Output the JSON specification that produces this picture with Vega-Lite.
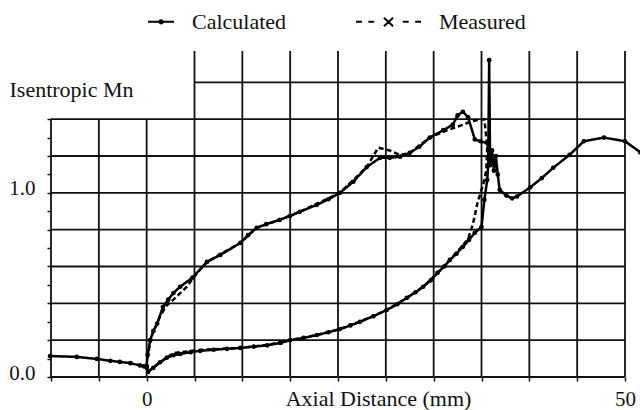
{
  "$schema": "https://vega.github.io/schema/vega-lite/v6.json",
  "width": 574,
  "height": 326,
  "autosize": {"type": "none"},
  "padding": {"left": 51, "top": 51, "right": 15, "bottom": 33},
  "background": "white",
  "config": {
    "font": "Liberation Serif",
    "view": {"stroke": null},
    "axis": {"domain": false, "grid": false, "tickColor": "#111", "tickWidth": 1.5, "labelColor": "#111", "labelFont": "Liberation Serif", "labelFontSize": 21, "titleFont": "Liberation Serif", "titleFontSize": 22, "titleFontWeight": "normal", "titleColor": "#111"}
  },
  "datasets": {
    "gridV": [
      {"x": -10, "y": 0, "y2": 1.4}, {"x": -5, "y": 0, "y2": 1.4}, {"x": 0, "y": 0, "y2": 1.4},
      {"x": 5, "y": 0, "y2": 1.77}, {"x": 10, "y": 0, "y2": 1.77}, {"x": 15, "y": 0, "y2": 1.77},
      {"x": 20, "y": 0, "y2": 1.77}, {"x": 25, "y": 0, "y2": 1.77}, {"x": 30, "y": 0, "y2": 1.77},
      {"x": 35, "y": 0, "y2": 1.77}, {"x": 40, "y": 0, "y2": 1.77}, {"x": 45, "y": 0, "y2": 1.77},
      {"x": 50, "y": 0, "y2": 1.77}
    ],
    "gridH": [
      {"y": 0, "x": -10, "x2": 50}, {"y": 0.2, "x": -10, "x2": 50}, {"y": 0.4, "x": -10, "x2": 50},
      {"y": 0.6, "x": -10, "x2": 50}, {"y": 0.8, "x": -10, "x2": 50}, {"y": 1.0, "x": -10, "x2": 50},
      {"y": 1.2, "x": -10, "x2": 50}, {"y": 1.4, "x": -10, "x2": 50}, {"y": 1.6, "x": 5, "x2": 50}
    ],
    "keys": [
      {"series": "Calculated", "x": 20, "y": 0.5},
      {"series": "Measured", "x": 20, "y": 0.5}
    ],
    "curves": [
      {"series": "Calculated", "seg": "a", "i": 1, "x": -10.1, "y": 0.114},
      {"series": "Calculated", "seg": "a", "i": 2, "x": -7.3, "y": 0.109},
      {"series": "Calculated", "seg": "a", "i": 3, "x": -5.2, "y": 0.098},
      {"series": "Calculated", "seg": "a", "i": 4, "x": -3.8, "y": 0.088},
      {"series": "Calculated", "seg": "a", "i": 5, "x": -2.8, "y": 0.082},
      {"series": "Calculated", "seg": "a", "i": 6, "x": -1.7, "y": 0.075},
      {"series": "Calculated", "seg": "a", "i": 7, "x": -0.7, "y": 0.063},
      {"series": "Calculated", "seg": "a", "i": 8, "x": -0.3, "y": 0.058},
      {"series": "Calculated", "seg": "a", "i": 9, "x": 0.0, "y": 0.05},
      {"series": "Calculated", "seg": "a", "i": 10, "x": 0.15, "y": 0.027},
      {"series": "Calculated", "seg": "a", "i": 11, "x": 0.7, "y": 0.05},
      {"series": "Calculated", "seg": "a", "i": 12, "x": 1.4, "y": 0.08},
      {"series": "Calculated", "seg": "a", "i": 13, "x": 2.1, "y": 0.105},
      {"series": "Calculated", "seg": "a", "i": 14, "x": 2.8, "y": 0.118},
      {"series": "Calculated", "seg": "a", "i": 15, "x": 3.5, "y": 0.125},
      {"series": "Calculated", "seg": "a", "i": 16, "x": 4.6, "y": 0.135},
      {"series": "Calculated", "seg": "a", "i": 17, "x": 5.6, "y": 0.142},
      {"series": "Calculated", "seg": "a", "i": 18, "x": 7.0, "y": 0.148},
      {"series": "Calculated", "seg": "a", "i": 19, "x": 8.4, "y": 0.153},
      {"series": "Calculated", "seg": "a", "i": 20, "x": 9.8, "y": 0.158},
      {"series": "Calculated", "seg": "a", "i": 21, "x": 11.2, "y": 0.165},
      {"series": "Calculated", "seg": "a", "i": 22, "x": 12.6, "y": 0.172},
      {"series": "Calculated", "seg": "a", "i": 23, "x": 14.0, "y": 0.185},
      {"series": "Calculated", "seg": "a", "i": 24, "x": 15.0, "y": 0.2},
      {"series": "Calculated", "seg": "a", "i": 25, "x": 16.4, "y": 0.212},
      {"series": "Calculated", "seg": "a", "i": 26, "x": 17.8, "y": 0.228},
      {"series": "Calculated", "seg": "a", "i": 27, "x": 19.0, "y": 0.243},
      {"series": "Calculated", "seg": "a", "i": 28, "x": 20.2, "y": 0.26},
      {"series": "Calculated", "seg": "a", "i": 29, "x": 21.3, "y": 0.28},
      {"series": "Calculated", "seg": "a", "i": 30, "x": 22.3, "y": 0.3},
      {"series": "Calculated", "seg": "a", "i": 31, "x": 23.7, "y": 0.33},
      {"series": "Calculated", "seg": "a", "i": 32, "x": 25.1, "y": 0.364},
      {"series": "Calculated", "seg": "a", "i": 33, "x": 26.2, "y": 0.395},
      {"series": "Calculated", "seg": "a", "i": 34, "x": 27.2, "y": 0.43},
      {"series": "Calculated", "seg": "a", "i": 35, "x": 28.1, "y": 0.46},
      {"series": "Calculated", "seg": "a", "i": 36, "x": 28.9, "y": 0.49},
      {"series": "Calculated", "seg": "a", "i": 37, "x": 29.7, "y": 0.525},
      {"series": "Calculated", "seg": "a", "i": 38, "x": 30.4, "y": 0.565},
      {"series": "Calculated", "seg": "a", "i": 39, "x": 31.1, "y": 0.6},
      {"series": "Calculated", "seg": "a", "i": 40, "x": 31.7, "y": 0.636},
      {"series": "Calculated", "seg": "a", "i": 41, "x": 32.4, "y": 0.67},
      {"series": "Calculated", "seg": "a", "i": 42, "x": 33.05, "y": 0.707},
      {"series": "Calculated", "seg": "a", "i": 43, "x": 33.7, "y": 0.745},
      {"series": "Calculated", "seg": "a", "i": 44, "x": 34.3, "y": 0.783},
      {"series": "Calculated", "seg": "a", "i": 45, "x": 35.0, "y": 0.815},
      {"series": "Calculated", "seg": "a", "i": 46, "x": 35.3, "y": 0.962},
      {"series": "Calculated", "seg": "a", "i": 47, "x": 35.6, "y": 1.07},
      {"series": "Calculated", "seg": "a", "i": 48, "x": 35.7, "y": 1.15},
      {"series": "Calculated", "seg": "a", "i": 49, "x": 35.8, "y": 1.72},
      {"series": "Calculated", "seg": "a", "i": 50, "x": 35.9, "y": 1.15},
      {"series": "Calculated", "seg": "a", "i": 51, "x": 36.1, "y": 1.23},
      {"series": "Calculated", "seg": "a", "i": 52, "x": 36.3, "y": 1.12},
      {"series": "Calculated", "seg": "a", "i": 53, "x": 36.5, "y": 1.2},
      {"series": "Calculated", "seg": "a", "i": 54, "x": 36.7, "y": 1.1},
      {"series": "Calculated", "seg": "a", "i": 55, "x": 36.9, "y": 1.016},
      {"series": "Calculated", "seg": "a", "i": 56, "x": 37.6, "y": 0.985},
      {"series": "Calculated", "seg": "a", "i": 57, "x": 38.2, "y": 0.97},
      {"series": "Calculated", "seg": "a", "i": 58, "x": 38.7, "y": 0.98},
      {"series": "Calculated", "seg": "a", "i": 59, "x": 40.1, "y": 1.03},
      {"series": "Calculated", "seg": "a", "i": 60, "x": 41.3, "y": 1.08},
      {"series": "Calculated", "seg": "a", "i": 61, "x": 42.5, "y": 1.136},
      {"series": "Calculated", "seg": "a", "i": 62, "x": 44.2, "y": 1.206},
      {"series": "Calculated", "seg": "a", "i": 63, "x": 45.7, "y": 1.28},
      {"series": "Calculated", "seg": "a", "i": 64, "x": 47.8, "y": 1.3},
      {"series": "Calculated", "seg": "a", "i": 65, "x": 50.0, "y": 1.28},
      {"series": "Calculated", "seg": "a", "i": 66, "x": 51.6, "y": 1.22},
      {"series": "Calculated", "seg": "b", "i": 1, "x": 0.0, "y": 0.06},
      {"series": "Calculated", "seg": "b", "i": 2, "x": 0.1, "y": 0.12},
      {"series": "Calculated", "seg": "b", "i": 3, "x": 0.37, "y": 0.2},
      {"series": "Calculated", "seg": "b", "i": 4, "x": 0.7, "y": 0.25},
      {"series": "Calculated", "seg": "b", "i": 5, "x": 1.1, "y": 0.29},
      {"series": "Calculated", "seg": "b", "i": 6, "x": 1.7, "y": 0.38},
      {"series": "Calculated", "seg": "b", "i": 7, "x": 2.25, "y": 0.42},
      {"series": "Calculated", "seg": "b", "i": 8, "x": 2.8, "y": 0.456},
      {"series": "Calculated", "seg": "b", "i": 9, "x": 3.5, "y": 0.49},
      {"series": "Calculated", "seg": "b", "i": 10, "x": 4.8, "y": 0.54},
      {"series": "Calculated", "seg": "b", "i": 11, "x": 6.3, "y": 0.625},
      {"series": "Calculated", "seg": "b", "i": 12, "x": 7.7, "y": 0.663},
      {"series": "Calculated", "seg": "b", "i": 13, "x": 9.8, "y": 0.728},
      {"series": "Calculated", "seg": "b", "i": 14, "x": 10.6, "y": 0.77},
      {"series": "Calculated", "seg": "b", "i": 15, "x": 11.5, "y": 0.81},
      {"series": "Calculated", "seg": "b", "i": 16, "x": 12.5, "y": 0.83},
      {"series": "Calculated", "seg": "b", "i": 17, "x": 13.9, "y": 0.853},
      {"series": "Calculated", "seg": "b", "i": 18, "x": 15.0, "y": 0.875},
      {"series": "Calculated", "seg": "b", "i": 19, "x": 16.0, "y": 0.897},
      {"series": "Calculated", "seg": "b", "i": 20, "x": 17.8, "y": 0.935},
      {"series": "Calculated", "seg": "b", "i": 21, "x": 19.0, "y": 0.965},
      {"series": "Calculated", "seg": "b", "i": 22, "x": 20.2, "y": 1.0},
      {"series": "Calculated", "seg": "b", "i": 23, "x": 21.6, "y": 1.06},
      {"series": "Calculated", "seg": "b", "i": 24, "x": 23.0, "y": 1.14},
      {"series": "Calculated", "seg": "b", "i": 25, "x": 24.4, "y": 1.19},
      {"series": "Calculated", "seg": "b", "i": 26, "x": 25.4, "y": 1.19},
      {"series": "Calculated", "seg": "b", "i": 27, "x": 26.5, "y": 1.196},
      {"series": "Calculated", "seg": "b", "i": 28, "x": 27.5, "y": 1.217},
      {"series": "Calculated", "seg": "b", "i": 29, "x": 28.5, "y": 1.25},
      {"series": "Calculated", "seg": "b", "i": 30, "x": 29.6, "y": 1.3},
      {"series": "Calculated", "seg": "b", "i": 31, "x": 31.0, "y": 1.34},
      {"series": "Calculated", "seg": "b", "i": 32, "x": 32.0, "y": 1.37},
      {"series": "Calculated", "seg": "b", "i": 33, "x": 32.5, "y": 1.42},
      {"series": "Calculated", "seg": "b", "i": 34, "x": 33.05, "y": 1.44},
      {"series": "Calculated", "seg": "b", "i": 35, "x": 33.6, "y": 1.41},
      {"series": "Calculated", "seg": "b", "i": 36, "x": 34.3, "y": 1.29},
      {"series": "Calculated", "seg": "b", "i": 37, "x": 34.9, "y": 1.28},
      {"series": "Calculated", "seg": "b", "i": 38, "x": 35.6, "y": 1.27},
      {"series": "Calculated", "seg": "b", "i": 39, "x": 35.8, "y": 1.2},
      {"series": "Measured", "seg": "m", "i": 1, "x": 0.05, "y": 0.1},
      {"series": "Measured", "seg": "m", "i": 2, "x": 0.5, "y": 0.22},
      {"series": "Measured", "seg": "m", "i": 3, "x": 1.4, "y": 0.33},
      {"series": "Measured", "seg": "m", "i": 4, "x": 2.1, "y": 0.39},
      {"series": "Measured", "seg": "m", "i": 5, "x": 2.8, "y": 0.42},
      {"series": "Measured", "seg": "m", "i": 6, "x": 3.5, "y": 0.455},
      {"series": "Measured", "seg": "m", "i": 7, "x": 4.2, "y": 0.49},
      {"series": "Measured", "seg": "m", "i": 8, "x": 4.9, "y": 0.54},
      {"series": "Measured", "seg": "m", "i": 9, "x": 6.3, "y": 0.625},
      {"series": "Measured", "seg": "m", "i": 10, "x": 9.8, "y": 0.728},
      {"series": "Measured", "seg": "m", "i": 11, "x": 11.5, "y": 0.81},
      {"series": "Measured", "seg": "m", "i": 12, "x": 13.9, "y": 0.853},
      {"series": "Measured", "seg": "m", "i": 13, "x": 16.0, "y": 0.897},
      {"series": "Measured", "seg": "m", "i": 14, "x": 20.2, "y": 1.0},
      {"series": "Measured", "seg": "m", "i": 15, "x": 23.0, "y": 1.14},
      {"series": "Measured", "seg": "m", "i": 16, "x": 24.2, "y": 1.245},
      {"series": "Measured", "seg": "m", "i": 17, "x": 25.4, "y": 1.23},
      {"series": "Measured", "seg": "m", "i": 18, "x": 26.5, "y": 1.205},
      {"series": "Measured", "seg": "m", "i": 19, "x": 27.5, "y": 1.217},
      {"series": "Measured", "seg": "m", "i": 20, "x": 29.6, "y": 1.3},
      {"series": "Measured", "seg": "m", "i": 21, "x": 31.4, "y": 1.34},
      {"series": "Measured", "seg": "m", "i": 22, "x": 33.1, "y": 1.37},
      {"series": "Measured", "seg": "m", "i": 23, "x": 33.8, "y": 1.386},
      {"series": "Measured", "seg": "m", "i": 24, "x": 34.8, "y": 1.397},
      {"series": "Measured", "seg": "m", "i": 25, "x": 35.3, "y": 1.4},
      {"series": "Measured", "seg": "m", "i": 26, "x": 35.6, "y": 1.25},
      {"series": "Measured", "seg": "m", "i": 27, "x": 35.5, "y": 1.12},
      {"series": "Measured", "seg": "m", "i": 28, "x": 35.2, "y": 1.05},
      {"series": "Measured", "seg": "m", "i": 29, "x": 34.6, "y": 0.95},
      {"series": "Measured", "seg": "m", "i": 30, "x": 34.1, "y": 0.83},
      {"series": "Measured", "seg": "m", "i": 31, "x": 33.6, "y": 0.75},
      {"series": "Measured", "seg": "m", "i": 32, "x": 32.8, "y": 0.7},
      {"series": "Measured", "seg": "m", "i": 33, "x": 31.7, "y": 0.636},
      {"series": "Measured", "seg": "m", "i": 34, "x": 30.4, "y": 0.565},
      {"series": "Measured", "seg": "m", "i": 35, "x": 28.9, "y": 0.49},
      {"series": "Measured", "seg": "m", "i": 36, "x": 27.2, "y": 0.43},
      {"series": "Measured", "seg": "m", "i": 37, "x": 25.1, "y": 0.364},
      {"series": "Measured", "seg": "m", "i": 38, "x": 22.3, "y": 0.3},
      {"series": "Measured", "seg": "m", "i": 39, "x": 20.2, "y": 0.26},
      {"series": "Measured", "seg": "m", "i": 40, "x": 17.8, "y": 0.228},
      {"series": "Measured", "seg": "m", "i": 41, "x": 15.0, "y": 0.2},
      {"series": "Measured", "seg": "m", "i": 42, "x": 12.6, "y": 0.174},
      {"series": "Measured", "seg": "m", "i": 43, "x": 9.8, "y": 0.158},
      {"series": "Measured", "seg": "m", "i": 44, "x": 5.6, "y": 0.147},
      {"series": "Measured", "seg": "m", "i": 45, "x": 2.8, "y": 0.13},
      {"series": "Measured", "seg": "m", "i": 46, "x": 1.4, "y": 0.08},
      {"series": "Measured", "seg": "m", "i": 47, "x": 0.15, "y": 0.03}
    ]
  },
  "encoding": {
    "x": {
      "field": "x", "type": "quantitative",
      "scale": {"domain": [-10, 50], "nice": false, "zero": false},
      "axis": {
        "values": [-10, -5, 0, 5, 10, 15, 20, 25, 30, 35, 40, 45, 50],
        "labelExpr": "datum.value === 0 || datum.value === 50 ? datum.label : ''",
        "tickSize": 4, "labelPadding": 24, "labelBaseline": "alphabetic", "labelFlush": false, "labelOverlap": false,
        "title": "Axial Distance (mm)", "titleX": 327, "titleY": 28, "titleBaseline": "alphabetic", "titleAlign": "center"
      }
    },
    "y": {
      "field": "y", "type": "quantitative",
      "scale": {"domain": [0, 1.77], "nice": false, "zero": false},
      "axis": {
        "values": [0, 0.1, 0.2, 0.3, 0.4, 0.5, 0.6, 0.7, 0.8, 0.9, 1, 1.1, 1.2, 1.3, 1.4],
        "labelExpr": "datum.value === 0 || datum.value === 1 ? format(datum.value, '.1f') : ''",
        "tickSize": 4, "labelPadding": 12, "labelBaseline": "alphabetic", "labelOffset": 2, "labelFlush": false, "labelOverlap": false,
        "title": "Isentropic Mn", "titleAngle": 0, "titleAlign": "left", "titleBaseline": "alphabetic", "titleX": -42, "titleY": 45
      }
    }
  },
  "layer": [
    {
      "data": {"name": "gridV"},
      "mark": {"type": "rule", "color": "#111", "strokeWidth": 1.8},
      "encoding": {"y2": {"field": "y2"}}
    },
    {
      "data": {"name": "gridH"},
      "mark": {"type": "rule", "color": "#111", "strokeWidth": 1.8},
      "encoding": {"x2": {"field": "x2"}}
    },
    {
      "data": {"name": "curves"},
      "mark": {"type": "line", "color": "#000", "strokeWidth": 2.5},
      "encoding": {
        "detail": {"field": "seg"},
        "order": {"field": "i", "type": "quantitative"},
        "strokeDash": {
          "field": "series", "type": "nominal",
          "scale": {"domain": ["Measured", "Calculated"], "range": [[5, 3], [1, 0]]},
          "legend": null
        }
      }
    },
    {
      "data": {"name": "curves"},
      "transform": [{"filter": "datum.series === 'Calculated'"}],
      "mark": {"type": "point", "shape": "circle", "filled": true, "color": "#000", "size": 22, "opacity": 1}
    },
    {
      "data": {"name": "keys"},
      "mark": {"type": "point", "filled": false, "color": "#000", "strokeWidth": 2, "opacity": 0},
      "encoding": {
        "shape": {
          "field": "series", "type": "nominal",
          "scale": {
            "domain": ["Calculated", "Measured"],
            "range": [
              "M0.2,0H1M0.55,0A0.05,0.05 0 1 0 0.65,0A0.05,0.05 0 1 0 0.55,0Z",
              "M-1,0H-0.82M-0.62,0H-0.44M-0.14,-0.12L0.14,0.14M-0.14,0.14L0.14,-0.12M0.44,0H0.62M0.82,0H1"
            ]
          },
          "legend": {
            "title": null, "orient": "none", "legendX": 57, "legendY": -63, "direction": "horizontal",
            "symbolSize": 4225, "symbolStrokeWidth": 2, "symbolStrokeColor": "#000", "symbolOpacity": 1,
            "labelFont": "Liberation Serif", "labelFontSize": 22, "labelColor": "#111", "labelOffset": 17, "columnPadding": 65
          }
        }
      }
    }
  ]
}
